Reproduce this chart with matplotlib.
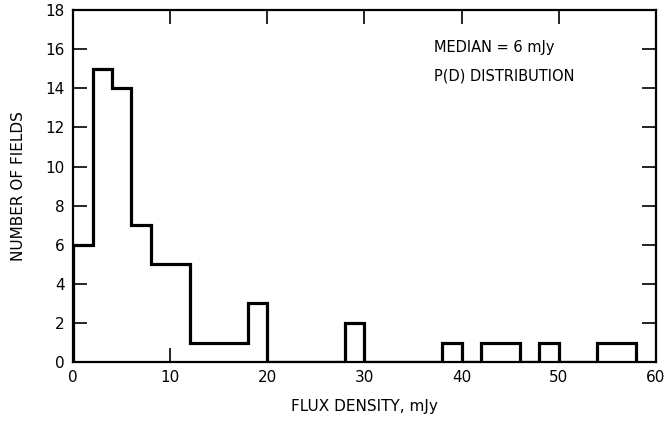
import matplotlib
matplotlib.use('Agg')
import matplotlib.pyplot as plt

# histogram of flux density per field (bin edges in mJy, counts per bin)
edges = [0, 2, 4, 6, 8, 12, 18, 20, 28, 30, 38, 40, 42, 46, 48, 50, 54, 58]
counts = [6, 15, 14, 7, 5, 1, 3, 0, 2, 0, 1, 0, 1, 0, 1, 0, 1]

xticks = [0, 10, 20, 30, 40, 50, 60]
yticks = [0, 2, 4, 6, 8, 10, 12, 14, 16, 18]

fig = plt.figure(figsize=(6.65, 4.24), dpi=100)
ax = fig.add_axes([0.11, 0.146, 0.876, 0.83])

ax.stairs(counts, edges, color='black', linewidth=2.3, baseline=0)

ax.set_xlim(0, 60)
ax.set_ylim(0, 18)
ax.set_xticks(xticks)
ax.set_yticks(yticks)
ax.tick_params(direction='in', length=10, width=1.2, top=True, right=True,
               labelsize=11, pad=6)
for s in ax.spines.values():
    s.set_linewidth(1.6)

ax.set_xlabel('FLUX DENSITY, mJy', fontsize=11, labelpad=10)
ax.set_ylabel('NUMBER OF FIELDS', fontsize=11, labelpad=14)

ax.text(0.62, 0.88, 'MEDIAN = 6 mJy', transform=ax.transAxes, fontsize=10.5)
ax.text(0.62, 0.80, 'P(D) DISTRIBUTION', transform=ax.transAxes, fontsize=10.5)

fig.savefig('out.png', dpi=100)
